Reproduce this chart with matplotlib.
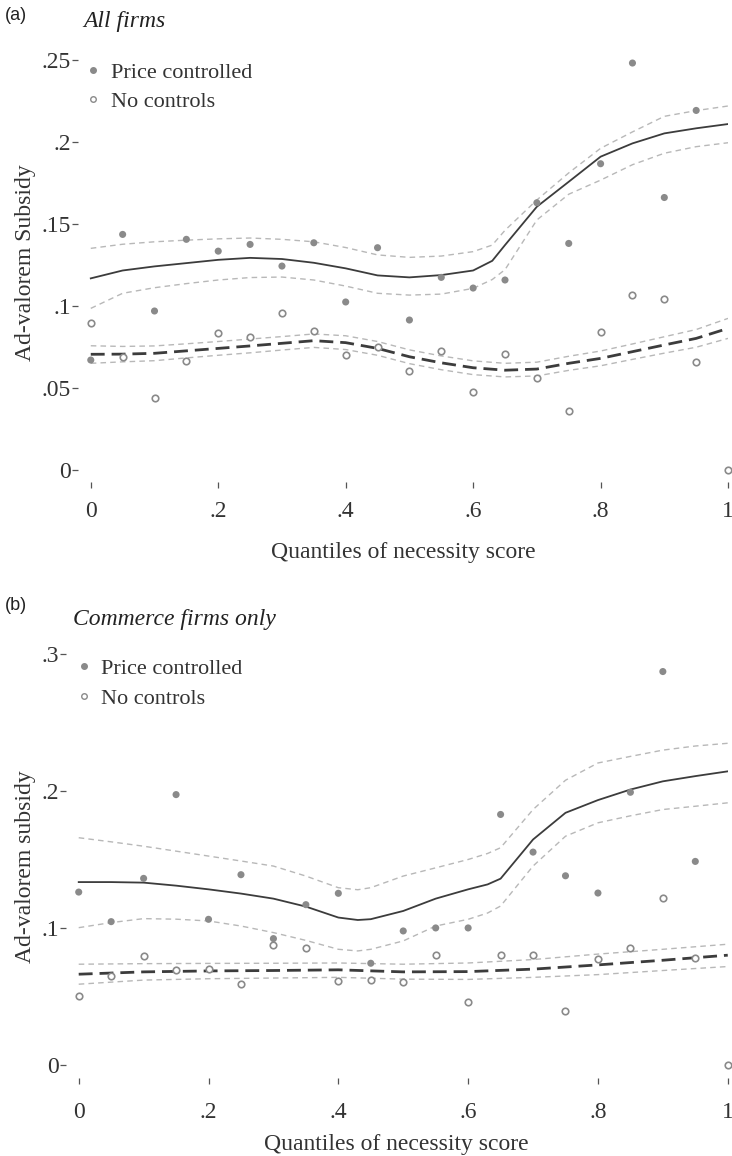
import matplotlib
matplotlib.use("Agg")
import matplotlib.pyplot as plt
from matplotlib.lines import Line2D
import numpy as np

plt.rcParams['font.family'] = ['Liberation Serif', 'DejaVu Serif']

# quantile positions of the binned points
q = np.round(np.arange(0, 1.0001, 0.05), 2)

# ---- panel (a): all firms ----
a_pc = [0.0669, 0.1435, 0.0968, 0.1405, 0.1333, 0.1374, 0.1242, 0.1384, 0.1023, 0.1354,
        0.0913, 0.1173, 0.1108, 0.1157, 0.1628, 0.1380, 0.1866, 0.2480, 0.1660, 0.2191]
a_nc = [0.0896, 0.0685, 0.0435, 0.0661, 0.0835, 0.0811, 0.0957, 0.0848, 0.0700, 0.0746,
        0.0604, 0.0726, 0.0476, 0.0707, 0.0557, 0.0360, 0.0838, 0.1063, 0.1039, 0.0659, 0.0]

a_fx = [0, 0.05, 0.1, 0.15, 0.2, 0.25, 0.3, 0.35, 0.4, 0.45, 0.5, 0.55, 0.6, 0.63, 0.65,
        0.7, 0.75, 0.8, 0.85, 0.9, 0.95, 1.0]
a_fit = [0.1167, 0.1215, 0.1240, 0.1260, 0.1280, 0.1292, 0.1285, 0.1262, 0.1228, 0.1185,
         0.1173, 0.1187, 0.1215, 0.1274, 0.1370, 0.1604, 0.1756, 0.1909, 0.1990, 0.2051,
         0.2082, 0.2108]
a_hi = [0.1350, 0.1375, 0.1390, 0.1400, 0.1408, 0.1413, 0.1405, 0.1390, 0.1355, 0.1310,
        0.1295, 0.1303, 0.1330, 0.1370, 0.1460, 0.1645, 0.1810, 0.1960, 0.2060, 0.2155,
        0.2190, 0.2218]
a_lo = [0.0984, 0.1076, 0.1110, 0.1135, 0.1157, 0.1172, 0.1175, 0.1157, 0.1120, 0.1076,
        0.1065, 0.1071, 0.1106, 0.1160, 0.1220, 0.1523, 0.1680, 0.1766, 0.1860, 0.1930,
        0.1970, 0.1994]
a_nfit = [0.0704, 0.0705, 0.0710, 0.0725, 0.0740, 0.0755, 0.0771, 0.0787, 0.0775, 0.0740,
          0.0689, 0.0652, 0.0622, 0.0607, 0.0614, 0.0649, 0.0679, 0.0720, 0.0761, 0.0801, 0.0862]
a_nhi = [0.0756, 0.0752, 0.0755, 0.0768, 0.0782, 0.0797, 0.0812, 0.0828, 0.0817, 0.0782,
         0.0731, 0.0694, 0.0664, 0.0649, 0.0656, 0.0692, 0.0724, 0.0767, 0.0811, 0.0855, 0.0923]
a_nlo = [0.0649, 0.0658, 0.0665, 0.0682, 0.0698, 0.0713, 0.0730, 0.0746, 0.0733, 0.0698,
         0.0647, 0.0610, 0.0580, 0.0566, 0.0572, 0.0606, 0.0634, 0.0673, 0.0711, 0.0747, 0.0801]

# ---- panel (b): commerce firms only ----
b_pc = [0.1263, 0.1047, 0.1363, 0.1975, 0.1064, 0.1390, 0.0923, 0.1171, 0.1254, 0.0743,
        0.0979, 0.1001, 0.1001, 0.1830, 0.1555, 0.1382, 0.1256, 0.1992, 0.2874, 0.1487]
b_nc = [0.0505, 0.0651, 0.0797, 0.0692, 0.0700, 0.0595, 0.0875, 0.0858, 0.0615, 0.0622,
        0.0603, 0.0804, 0.0462, 0.0804, 0.0804, 0.0394, 0.0773, 0.0858, 0.1217, 0.0778, 0.0]

b_fx = [0, 0.05, 0.1, 0.15, 0.2, 0.25, 0.3, 0.35, 0.4, 0.43, 0.45, 0.5, 0.55, 0.6, 0.63,
        0.65, 0.7, 0.75, 0.8, 0.85, 0.9, 0.95, 1.0]
b_fit = [0.1336, 0.1336, 0.1332, 0.1310, 0.1283, 0.1252, 0.1215, 0.1157, 0.1077, 0.1059,
         0.1065, 0.1125, 0.1215, 0.1283, 0.1319, 0.1361, 0.1647, 0.1842, 0.1935, 0.2012,
         0.2072, 0.2110, 0.2145]
b_hi = [0.1660, 0.1630, 0.1598, 0.1562, 0.1526, 0.1490, 0.1453, 0.1380, 0.1295, 0.1280,
        0.1295, 0.1380, 0.1440, 0.1501, 0.1545, 0.1587, 0.1866, 0.2080, 0.2206, 0.2254,
        0.2300, 0.2330, 0.2350]
b_lo = [0.1003, 0.1040, 0.1069, 0.1065, 0.1052, 0.1015, 0.0967, 0.0910, 0.0845, 0.0833,
        0.0845, 0.0906, 0.1015, 0.1064, 0.1110, 0.1161, 0.1453, 0.1671, 0.1769, 0.1820,
        0.1866, 0.1890, 0.1915]
b_nx = [0, 0.1, 0.2, 0.3, 0.4, 0.5, 0.6, 0.7, 0.8, 0.9, 1.0]
b_nfit = [0.0663, 0.0680, 0.0687, 0.0690, 0.0695, 0.0680, 0.0682, 0.0700, 0.0731, 0.0765, 0.0802]
b_nhi = [0.0736, 0.0740, 0.0742, 0.0743, 0.0745, 0.0736, 0.0745, 0.0770, 0.0810, 0.0845, 0.0882]
b_nlo = [0.0590, 0.0620, 0.0630, 0.0635, 0.0640, 0.0627, 0.0625, 0.0640, 0.0660, 0.0690, 0.0719]

xticks = [0, 0.2, 0.4, 0.6, 0.8, 1.0]
xlabels = ['0', '.2', '.4', '.6', '.8', '1']

PT = '#8a8a8a'
FIT = '#3c3c3c'
CI = '#b8b8b8'
TXT = '#333333'


def panel(ax, pc, nc, fx, fit, hi, lo, nx, nfit, nhi, nlo, yticks, ylabels, ylabel, ylim,
          xpad, xlabpad):
    ax.plot(fx, hi, color=CI, lw=1.0, dashes=(4, 3), zorder=2)
    ax.plot(fx, lo, color=CI, lw=1.0, dashes=(4, 3), zorder=2)
    ax.plot(nx, nhi, color=CI, lw=1.0, dashes=(4, 3), zorder=2)
    ax.plot(nx, nlo, color=CI, lw=1.0, dashes=(4, 3), zorder=2)
    ax.plot(fx, fit, color=FIT, lw=1.3, zorder=3)
    ax.plot(nx, nfit, color=FIT, lw=2.0, dashes=(5, 2.5), zorder=3)
    ax.scatter(q[:len(pc)], pc, s=26, color=PT, edgecolor='none', zorder=4, clip_on=False)
    ax.scatter(q[:len(nc)], nc, s=22, facecolor='white', edgecolor=PT, lw=1.2, zorder=4,
               clip_on=False)
    for s in ax.spines.values():
        s.set_visible(False)
    ax.set_xlim(-0.02, 1.0)
    ax.set_ylim(*ylim)
    ax.set_xticks(xticks)
    ax.set_xticklabels(xlabels)
    ax.set_yticks(yticks)
    ax.set_yticklabels(ylabels)
    ax.tick_params(axis='x', length=4, width=0.9, color='#555555', pad=xpad, labelsize=17,
                   labelcolor=TXT)
    ax.tick_params(axis='y', length=4, width=0.9, color='#555555', pad=1, labelsize=17,
                   labelcolor=TXT)
    ax.set_xlabel('Quantiles of necessity score', fontsize=17, color=TXT, labelpad=xlabpad)
    ax.set_ylabel(ylabel, fontsize=17, color=TXT, labelpad=4)
    handles = [Line2D([], [], ls='none', marker='o', ms=4, color=PT, mec=PT),
               Line2D([], [], ls='none', marker='o', ms=4, mfc='white', mec=PT, mew=1)]
    return handles


fig = plt.figure(figsize=(7.32, 11.56), dpi=100)

ax1 = fig.add_axes([0.1066, 0.5830, 0.888, 0.3795])
h = panel(ax1, a_pc, a_nc, a_fx, a_fit, a_hi, a_lo, q, a_nfit, a_nhi, a_nlo,
          [0, 0.05, 0.1, 0.15, 0.2, 0.25], ['0', '.05', '.1', '.15', '.2', '.25'],
          'Ad-valorem Subsidy', (-0.0075, 0.26), 10, 14)
ax1.legend(h, ['Price controlled', 'No controls'], loc='upper left', frameon=False,
           bbox_to_anchor=(0.106, 0.954), bbox_transform=fig.transFigure, fontsize=16,
           handlelength=0.6, handletextpad=0.5, labelspacing=0.4, borderaxespad=0,
           labelcolor=TXT)

ax2 = fig.add_axes([0.0898, 0.0675, 0.9044, 0.3665])
h = panel(ax2, b_pc, b_nc, b_fx, b_fit, b_hi, b_lo, b_nx, b_nfit, b_nhi, b_nlo,
          [0, 0.1, 0.2, 0.3], ['0', '.1', '.2', '.3'],
          'Ad-valorem subsidy', (-0.0095, 0.300), 13, 8)
ax2.legend(h, ['Price controlled', 'No controls'], loc='upper left', frameon=False,
           bbox_to_anchor=(0.093, 0.4385), bbox_transform=fig.transFigure, fontsize=16,
           handlelength=0.6, handletextpad=0.5, labelspacing=0.45, borderaxespad=0,
           labelcolor=TXT)

fig.text(0.006, 0.987, '(a)', family='Liberation Sans', fontsize=13, va='center',
         color='#222222')
fig.text(0.114, 0.981, 'All firms', style='italic', fontsize=17, va='center',
         color='#222222')
fig.text(0.006, 0.4766, '(b)', family='Liberation Sans', fontsize=13, va='center',
         color='#222222')
fig.text(0.100, 0.4637, 'Commerce firms only', style='italic', fontsize=17, va='center',
         color='#222222')

fig.savefig('out.png', dpi=100)
